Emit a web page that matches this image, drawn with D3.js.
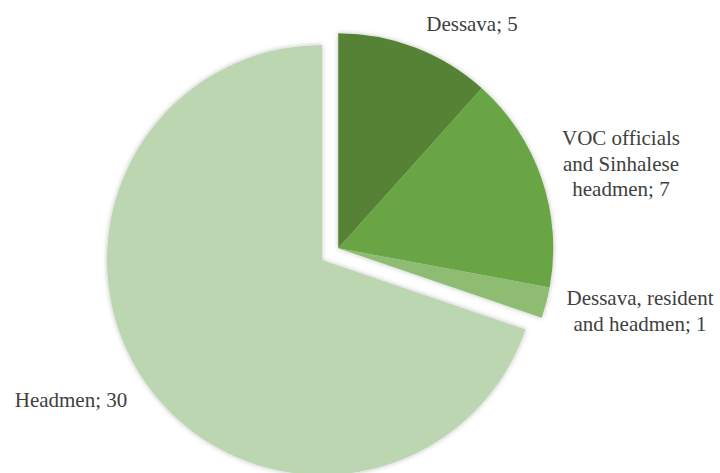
<!DOCTYPE html>
<html><head><meta charset="utf-8">
<script src="https://cdn.jsdelivr.net/npm/d3@7"></script>
<style>html,body{margin:0;padding:0;background:#fff;overflow:hidden}
text{font-family:"Liberation Serif","Times New Roman",Tinos,"DejaVu Serif",serif;}</style>
</head><body>
<svg id="chart" width="720" height="473"></svg>
<script>
const categories = ["Dessava", "VOC officials and Sinhalese headmen", "Dessava, resident and headmen", "Headmen"];
const values = [5, 7, 1, 30];
const labelLines = [["Dessava; 5"], ["VOC officials", "and Sinhalese", "headmen; 7"], ["Dessava, resident", "and headmen; 1"], ["Headmen; 30"]];
const colors = ["#548235", "#6aa544", "#8fbc73", "#bdd6b2"];
const exploded = [true, true, true, false];

const svg = d3.select("#chart");
const cx = 322, cy = 260, R = 215, explodeDist = 20;

const defs = svg.append("defs");
const f = defs.append("filter").attr("id", "sh").attr("x", "-10%").attr("y", "-10%").attr("width", "120%").attr("height", "120%");
f.append("feDropShadow").attr("dx", 0).attr("dy", 0).attr("stdDeviation", 2.5).attr("flood-color", "#000").attr("flood-opacity", 0.25);

const pie = d3.pie().sort(null).value(d => d)(values);
const arc = d3.arc().innerRadius(0).outerRadius(R);

const ex = pie.filter((d, i) => exploded[i]);
const a0 = d3.min(ex, d => d.startAngle), a1 = d3.max(ex, d => d.endAngle);
const mid = (a0 + a1) / 2;
const ox = explodeDist * Math.sin(mid), oy = -explodeDist * Math.cos(mid);

const gMain = svg.append("g").attr("transform", `translate(${cx},${cy})`).attr("filter", "url(#sh)");
gMain.selectAll("path").data(pie.filter((d, i) => !exploded[i])).join("path")
  .attr("d", arc).attr("fill", d => colors[d.index]);
const gEx = svg.append("g").attr("transform", `translate(${cx + ox},${cy + oy})`).attr("filter", "url(#sh)");
gEx.selectAll("path").data(ex).join("path")
  .attr("d", arc).attr("fill", d => colors[d.index]);

const labelPos = [[472, 31], [621, 145], [640, 305], [71, 407]];
const lineH = 25.5;
labelLines.forEach((lines, i) => {
  const t = svg.append("text").attr("text-anchor", "middle")
    .attr("font-size", 21).attr("fill", "#404040");
  lines.forEach((l, j) => {
    t.append("tspan").attr("x", labelPos[i][0]).attr("y", labelPos[i][1] + j * lineH).text(l);
  });
});
</script>
</body></html>
